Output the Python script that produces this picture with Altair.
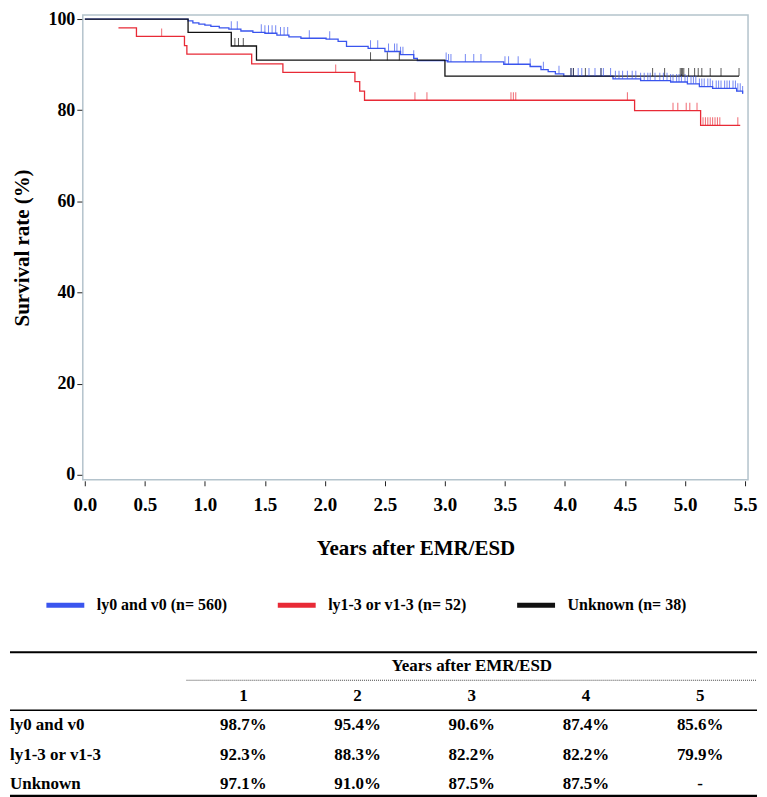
import altair as alt
import pandas as pd
import numpy as np

FONT = "Liberation Serif"

# ---------------- Kaplan-Meier curves (years, survival %) ----------------
blue_t = [0.0, 0.86, 0.90, 0.95, 1.00, 1.05, 1.12, 1.20, 1.30, 1.40, 1.50, 1.60, 1.70, 1.80,
          2.01, 2.11, 2.18, 2.36, 2.50, 2.63, 2.74, 2.77, 3.02, 3.49, 3.71, 3.80, 3.86, 3.92,
          3.99, 4.40, 4.63, 4.88, 5.02, 5.12, 5.23, 5.43, 5.48]
blue_s = [100.0, 99.6, 99.2, 98.9, 98.7, 98.4, 98.1, 97.8, 97.4, 97.1, 96.9, 96.5, 96.1, 95.8,
          95.6, 95.1, 94.0, 93.6, 92.9, 92.2, 91.4, 90.9, 90.6, 90.1, 89.6, 88.9, 88.5, 88.0,
          87.5, 86.9, 86.5, 86.2, 85.8, 85.2, 84.8, 84.2, 83.6]
blue_cens = [1.22, 1.27, 1.47, 1.50, 1.53, 1.56, 1.59, 1.63, 1.66, 1.69, 1.87, 2.04, 2.38, 2.44,
             2.53, 2.58, 2.60, 2.63, 2.65, 2.74, 3.01, 3.03, 3.05, 3.17, 3.24, 3.30, 3.50, 3.53,
             3.61, 3.71, 3.82, 3.95, 4.05, 4.07, 4.11, 4.14, 4.20, 4.25, 4.30, 4.32, 4.38, 4.42,
             4.45, 4.48, 4.52, 4.56, 4.59, 4.63, 4.66, 4.69, 4.71, 4.75, 4.79, 4.82, 4.85, 4.88,
             4.90, 4.93, 4.95, 4.97, 5.00, 5.02, 5.05, 5.07, 5.09, 5.12, 5.14, 5.16, 5.19, 5.21,
             5.23, 5.26, 5.28, 5.30, 5.33, 5.35, 5.37, 5.40, 5.42, 5.44, 5.46, 5.48]

red_t = [0.28, 0.43, 0.83, 0.85, 1.39, 1.65, 2.25, 2.29, 2.33, 4.58, 5.13, 5.46]
red_s = [98.1, 96.2, 94.2, 92.3, 90.2, 88.3, 86.3, 84.2, 82.2, 79.9, 76.7, 76.7]
red_cens = [0.64, 2.09, 2.75, 2.85, 3.55, 3.57, 3.59, 4.52, 4.90, 4.94, 5.01, 5.04, 5.10,
            5.15, 5.17, 5.19, 5.21, 5.23, 5.25, 5.27, 5.29, 5.44]

black_t = [0.0, 0.86, 1.22, 1.43, 3.00, 5.45]
black_s = [100.0, 97.1, 94.1, 91.0, 87.5, 87.5]
black_cens = [1.25, 1.28, 1.32, 2.38, 2.52, 2.62, 4.05, 4.07, 4.17, 4.30, 4.73, 4.83, 4.96,
              4.97, 4.98, 4.99, 5.03, 5.08, 5.11, 5.14, 5.21, 5.30, 5.45]

groups = ["ly0 and v0 (n= 560)", "ly1-3 or v1-3 (n= 52)", "Unknown (n= 38)"]
colors = ["#3a55ee", "#e82a36", "#111111"]

x_ticks = [0.0, 0.5, 1.0, 1.5, 2.0, 2.5, 3.0, 3.5, 4.0, 4.5, 5.0, 5.5]
y_ticks = [0, 20, 40, 60, 80, 100]

# ---------------- survival table ----------------
table_header = "Years after EMR/ESD"
table_years = ["1", "2", "3", "4", "5"]
table_rows = ["ly0 and v0", "ly1-3 or v1-3", "Unknown"]
row_ly0 = ["98.7%", "95.4%", "90.6%", "87.4%", "85.6%"]
row_ly1 = ["92.3%", "88.3%", "82.2%", "82.2%", "79.9%"]
row_unk = ["97.1%", "91.0%", "87.5%", "87.5%", "-"]

# ---------------- build frames ----------------
curve_rows, cens_rows = [], []
for g, ts, ss, cs in [(groups[0], blue_t, blue_s, blue_cens),
                      (groups[1], red_t, red_s, red_cens),
                      (groups[2], black_t, black_s, black_cens)]:
    for i, (t, s) in enumerate(zip(ts, ss)):
        curve_rows.append({"group": g, "t": t, "s": s, "i": i})
    ta = np.array(ts)
    for c in cs:
        k = int(np.searchsorted(ta, c, side="right")) - 1
        k = max(k, 0)
        cens_rows.append({"group": g, "t": c, "s": ss[k]})
curve_df = pd.DataFrame(curve_rows)
cens_df = pd.DataFrame(cens_rows)

color_scale = alt.Scale(domain=groups, range=colors)
x_scale = alt.Scale(domain=[-0.017, 5.525], nice=False, zero=False)
y_scale = alt.Scale(domain=[-1.1, 100.9], nice=False, zero=False)

x_axis = alt.Axis(values=x_ticks, format=".1f", labelFont=FONT, labelFontWeight="bold",
                  labelFontSize=19, labelColor="black", labelPadding=10, tickColor="#222",
                  tickSize=5, offset=1, domain=False, grid=False, titleFont=FONT,
                  titleFontWeight="bold", titleFontSize=21, titleColor="black",
                  titlePadding=23, labelFlush=False)
y_axis = alt.Axis(values=y_ticks, format="d", labelFont=FONT, labelFontWeight="bold",
                  labelFontSize=18, labelColor="black", labelPadding=2, tickColor="#222",
                  tickSize=5, offset=1, domain=False, grid=False, titleFont=FONT,
                  titleFontWeight="bold", titleFontSize=21, titleColor="black",
                  titlePadding=15, labelFlush=False)

lines = alt.Chart(curve_df).mark_line(interpolate="step-after", strokeWidth=1.3).encode(
    x=alt.X("t:Q", scale=x_scale, axis=x_axis, title="Years after EMR/ESD"),
    y=alt.Y("s:Q", scale=y_scale, axis=y_axis, title="Survival rate (%)"),
    color=alt.Color("group:N", scale=color_scale, sort=groups,
                    legend=alt.Legend(title=None, orient="none", legendX=-39, legendY=570,
                                      direction="horizontal", columns=3,
                                      symbolType="stroke", symbolSize=1444,
                                      symbolStrokeWidth=5, labelFont=FONT,
                                      labelFontWeight="bold", labelFontSize=16,
                                      labelColor="black", labelOffset=10,
                                      columnPadding=40, labelLimit=400)),
    order=alt.Order("i:Q"),
)

ticks = alt.Chart(cens_df).mark_tick(orient="vertical", size=8, thickness=1, yOffset=-4).encode(
    x=alt.X("t:Q", scale=x_scale),
    y=alt.Y("s:Q", scale=y_scale),
    color=alt.Color("group:N", scale=color_scale, legend=None),
)

km = alt.layer(lines, ticks).properties(
    width=667, height=466,
    view=alt.ViewBackground(stroke="#b4c3cc", strokeWidth=1.5),
)

# ---------------- table chart ----------------
# the table view shares its left origin with the plot area; it reaches out to the page edge
T_LEFT = -73
T_RIGHT = 676
row_domain = ["hdr", "cols"] + table_rows
ty = alt.Scale(domain=row_domain, range=[16, 134], padding=0, type="point")
tx = alt.Scale(domain=table_years, range=[161, 619], padding=0, type="point")

cells = []
for name, vals in zip(table_rows, [row_ly0, row_ly1, row_unk]):
    for yr, v in zip(table_years, vals):
        cells.append({"row": name, "col": yr, "text": v})
for yr in table_years:
    cells.append({"row": "cols", "col": yr, "text": yr})
cells.append({"row": "hdr", "col": "3", "text": table_header})
cells_df = pd.DataFrame(cells)
labels_df = pd.DataFrame({"row": table_rows, "text": table_rows})

txt_style = dict(font=FONT, fontWeight="bold", fontSize=17, color="black", baseline="middle")

cell_text = alt.Chart(cells_df).mark_text(align="center", **txt_style).encode(
    x=alt.X("col:N", scale=tx, axis=None),
    y=alt.Y("row:N", scale=ty, axis=None),
    text="text:N",
)
label_text = alt.Chart(labels_df).mark_text(align="left", **txt_style).encode(
    x=alt.value(T_LEFT),
    y=alt.Y("row:N", scale=ty, axis=None),
    text="text:N",
)

rule_df = pd.DataFrame({"row": ["hdr"], "c1": ["1"], "c2": ["5"]})
top_rule = alt.Chart(pd.DataFrame({"row": ["hdr"]})).mark_rule(
    color="black", strokeWidth=2, yOffset=-14).encode(
    y=alt.Y("row:N", scale=ty, axis=None), x=alt.value(T_LEFT), x2=alt.value(T_RIGHT))
dotted_rule = alt.Chart(rule_df).mark_rule(
    color="#444", strokeWidth=1, strokeDash=[1, 1], yOffset=14, xOffset=-57, x2Offset=57).encode(
    y=alt.Y("row:N", scale=ty, axis=None),
    x=alt.X("c1:N", scale=tx, axis=None), x2="c2:N")
mid_rule = alt.Chart(pd.DataFrame({"row": ["cols"]})).mark_rule(
    color="black", strokeWidth=1.5, yOffset=14.5).encode(
    y=alt.Y("row:N", scale=ty, axis=None), x=alt.value(T_LEFT), x2=alt.value(T_RIGHT))
bottom_rule = alt.Chart(pd.DataFrame({"row": ["Unknown"]})).mark_rule(
    color="black", strokeWidth=2.5, yOffset=12).encode(
    y=alt.Y("row:N", scale=ty, axis=None), x=alt.value(T_LEFT), x2=alt.value(T_RIGHT))

table = alt.layer(top_rule, dotted_rule, mid_rule, bottom_rule, cell_text, label_text).properties(
    width=667, height=148,
    view=alt.ViewBackground(stroke=None),
)

chart = alt.vconcat(km, table, spacing=34).properties(
    padding={"left": 0, "top": 0, "right": 0, "bottom": 0}
).configure_view(stroke=None).resolve_scale(color="independent")

chart.save("out.html", embed_options={"renderer": "svg", "actions": False})
